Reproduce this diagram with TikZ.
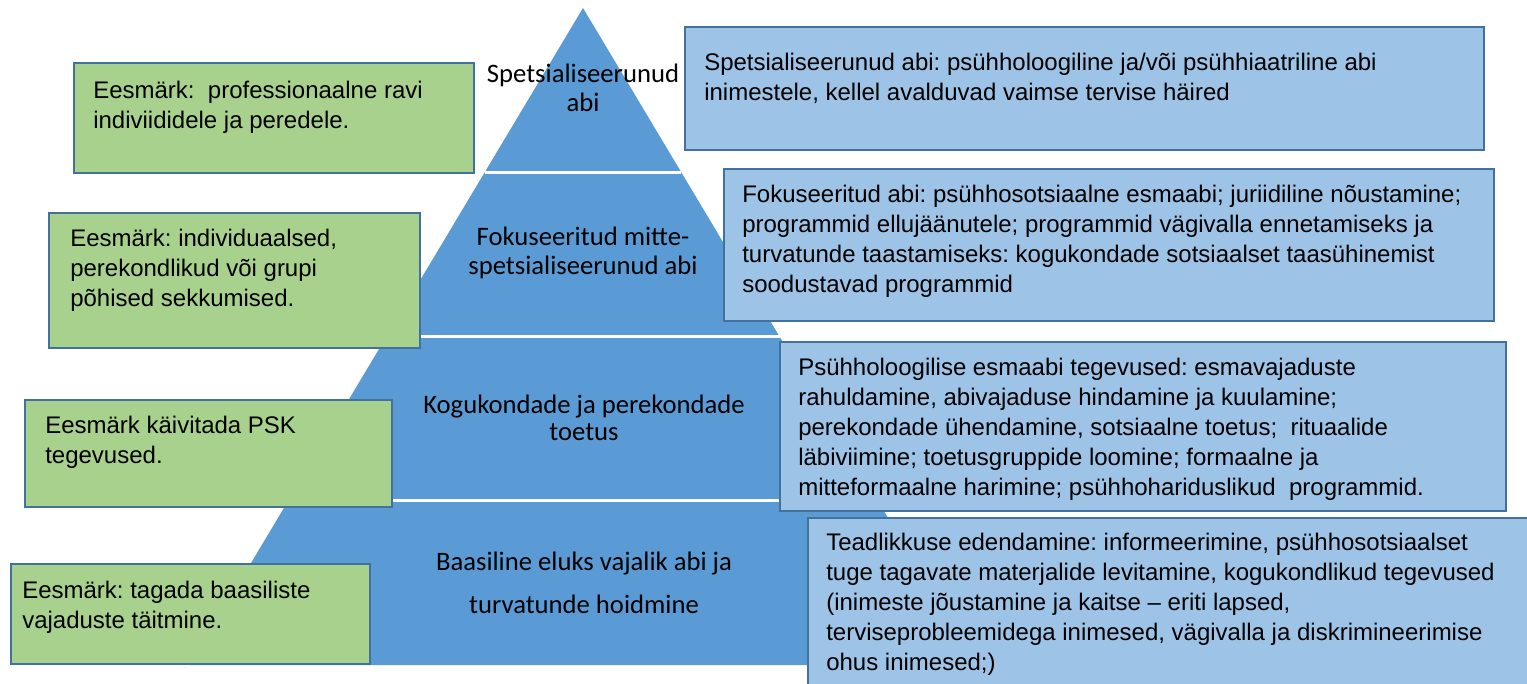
\documentclass[tikz,border=0pt]{standalone}
\usepackage{fontspec}
\setmainfont{Liberation Sans}
\newfontfamily\levelfont{Carlito}
\usetikzlibrary{calc}
\frenchspacing
\definecolor{pyrblue}{HTML}{5B9BD5}
\definecolor{infoblue}{HTML}{9DC3E6}
\definecolor{goalgreen}{HTML}{A9D18E}
\definecolor{rimblue}{HTML}{41719C}
\tikzset{
  goalbox/.style={draw=rimblue,fill=goalgreen,line width=1.2pt,anchor=north west,inner sep=0pt},
  infobox/.style={draw=rimblue,fill=infoblue,line width=1.2pt,anchor=north west,inner sep=0pt},
  boxtext/.style={anchor=north west,align=left,inner sep=0pt,font=\fontsize{18}{22.5}\selectfont},
  leveltext/.style={align=center,inner sep=0pt,font=\levelfont\fontsize{20}{#1}\selectfont},
  leveltext/.default=22
}
\begin{document}
\begin{tikzpicture}[x=0.75pt,y=-0.75pt]
  \useasboundingbox (0,0) rectangle (1527,684);
  \clip (0,0) rectangle (1527,684);
  \fill[white] (0,0) rectangle (1527,684);
  % pyramid
  \coordinate (apex) at (583,8);
  \coordinate (bl) at (190,665);
  \coordinate (br) at (976,665);
  \fill[pyrblue] (apex) -- (br) -- (bl) -- cycle;
  \foreach \t in {0.25,0.5,0.75}
    \draw[white,line width=2.2pt] ($(apex)!\t!(bl)$) -- ($(apex)!\t!(br)$);
  \node [leveltext=21.75] (lvl1) at (583,88) {Spetsialiseerunud\\abi};
  \node [leveltext=21.75] (lvl2) at (583,253) {Fokuseeritud mitte-\\spetsialiseerunud abi};
  \node [leveltext=20.25] (lvl3) at (584,418) {Kogukondade ja perekondade\\toetus};
  \node [leveltext=32.25] (lvl4) at (584,583) {Baasiline eluks vajalik abi ja\\turvatunde hoidmine};
  % goals, left
  \node [goalbox,minimum width=300pt,minimum height=82.5pt] (g1) at (73,62) {};
  \node [boxtext] (g1t) at ($(g1.north west)+(20,19)$) {Eesmärk:~ professionaalne ravi\\indiviididele ja peredele.};
  \node [goalbox,minimum width=278.25pt,minimum height=101.25pt] (g2) at (48,212) {};
  \node [boxtext] (g2t) at ($(g2.north west)+(22,17)$) {Eesmärk: individuaalsed,\\perekondlikud või grupi\\põhised sekkumised.};
  \node [goalbox,minimum width=275.25pt,minimum height=80.25pt] (g3) at (24,399) {};
  \node [boxtext] (g3t) at ($(g3.north west)+(21,17)$) {Eesmärk käivitada PSK\\tegevused.};
  \node [goalbox,minimum width=269.25pt,minimum height=75pt] (g4) at (10,563) {};
  \node [boxtext] (g4t) at ($(g4.north west)+(12,18)$) {Eesmärk: tagada baasiliste\\vajaduste täitmine.};
  % activities, right
  \node [infobox,minimum width=599.25pt,minimum height=92.25pt] (r1) at (684,26) {};
  \node [boxtext] (r1t) at ($(r1.north west)+(20,27)$) {Spetsialiseerunud abi: psühholoogiline ja/või psühhiaatriline abi\\inimestele, kellel avalduvad vaimse tervise häired};
  \node [infobox,minimum width=577.5pt,minimum height=114pt] (r2) at (723,168) {};
  \node [boxtext] (r2t) at ($(r2.north west)+(19,17)$) {Fokuseeritud abi: psühhosotsiaalne esmaabi; juriidiline nõustamine;\\programmid ellujäänutele; programmid vägivalla ennetamiseks ja\\turvatunde taastamiseks: kogukondade sotsiaalset taasühinemist\\soodustavad programmid};
  \node [infobox,minimum width=544.5pt,minimum height=126.75pt] (r3) at (779,341) {};
  \node [boxtext] (r3t) at ($(r3.north west)+(19,17)$) {Psühholoogilise esmaabi tegevused: esmavajaduste\\rahuldamine, abivajaduse hindamine ja kuulamine;\\perekondade ühendamine, sotsiaalne toetus;~ rituaalide\\läbiviimine; toetusgruppide loomine; formaalne ja\\mitteformaalne harimine; psühhohariduslikud~ programmid.};
  \node [infobox,minimum width=549.75pt,minimum height=137.25pt] (r4) at (807,517) {};
  \node [boxtext] (r4t) at ($(r4.north west)+(19,16)$) {Teadlikkuse edendamine: informeerimine, psühhosotsiaalset\\tuge tagavate materjalide levitamine, kogukondlikud tegevused\\(inimeste jõustamine ja kaitse – eriti lapsed,\\terviseprobleemidega inimesed, vägivalla ja diskrimineerimise\\ohus inimesed;)};
\end{tikzpicture}
\end{document}
